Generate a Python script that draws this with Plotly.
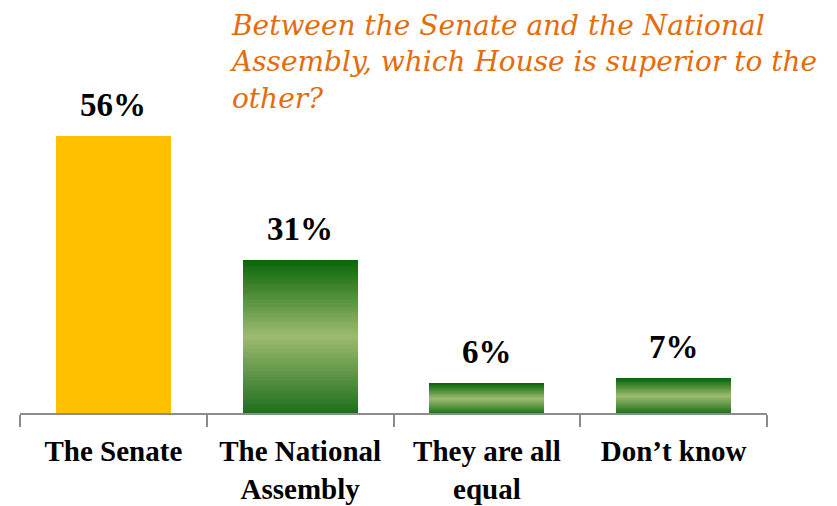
import plotly.graph_objects as go

categories = ["The Senate", "The National<br>Assembly", "They are all<br>equal", "Don’t know"]
values = [56, 31, 6, 7]
value_labels = ["56%", "31%", "6%", "7%"]
title_text = "Between the Senate and the National<br>Assembly, which House is superior to the<br>other?"

senate_color = "#FFC000"
dark_top = (8, 102, 8)
light_mid = (158, 187, 112)
dark_bot = (30, 110, 30)
N = 60

def lerp(a, b, t):
    return tuple(int(round(a[i] + (b[i] - a[i]) * t)) for i in range(3))

fig = go.Figure()

# Senate solid bar
fig.add_trace(go.Bar(
    x=categories,
    y=[values[0], None, None, None],
    marker=dict(color=senate_color, line=dict(width=0)),
    hoverinfo="skip",
))

# Green gradient bars built from stacked slices (bottom to top)
for k in range(N):
    t = (k + 0.5) / N  # 0 bottom, 1 top
    if t < 0.5:
        c = lerp(dark_bot, light_mid, t / 0.5)
    else:
        c = lerp(light_mid, dark_top, (t - 0.5) / 0.5)
    fig.add_trace(go.Bar(
        x=categories,
        y=[None] + [v / N for v in values[1:]],
        marker=dict(color="rgb(%d,%d,%d)" % c, line=dict(width=0)),
        hoverinfo="skip",
    ))

for cat, v, lab in zip(categories, values, value_labels):
    fig.add_annotation(
        x=cat, y=v, text="<b>%s</b>" % lab, showarrow=False,
        yanchor="bottom", yshift=11,
        font=dict(family="Liberation Serif", size=33, color="black"),
    )

fig.add_annotation(
    text="<i>%s</i>" % title_text,
    xref="paper", yref="paper",
    x=208 / 747, y=1 + 52 / 353,
    xanchor="left", yanchor="top", align="left", showarrow=False,
    borderpad=0,
    font=dict(family="DejaVu Serif", size=28, color="#E46C0A"),
)

fig.update_layout(
    width=837, height=506,
    barmode="stack",
    bargap=0.384,
    showlegend=False,
    plot_bgcolor="white",
    paper_bgcolor="white",
    margin=dict(l=12, r=78, t=52, b=101),
    xaxis=dict(
        automargin=False,
        showline=True, linecolor="#8C8C8C", linewidth=2,
        ticks="outside", tickson="boundaries", ticklen=12,
        tickcolor="#8C8C8C", tickwidth=1.5,
        ticklabelstandoff=11, tickangle=0,
        tickfont=dict(family="Liberation Serif", size=29, color="black"),
        showgrid=False,
    ),
    yaxis=dict(visible=False, range=[0, 71.3], showgrid=False, automargin=False),
)

fig.update_xaxes(ticktext=["<b>%s</b>" % c for c in categories], tickvals=categories)

fig.write_html("out.html")
